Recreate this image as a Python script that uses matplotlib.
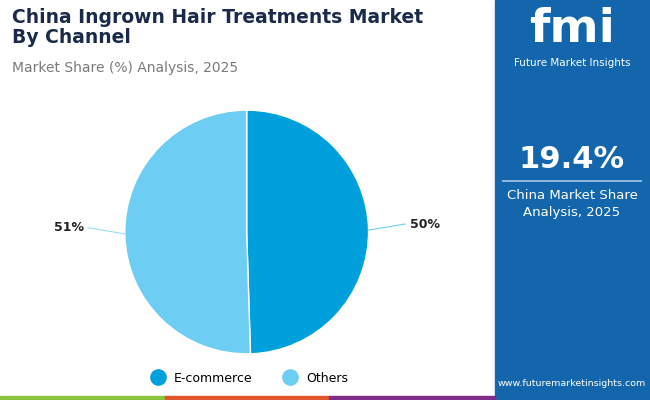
import matplotlib.pyplot as plt
from matplotlib.patches import Rectangle
import numpy as np

categories = ["E-commerce", "Others"]
shares = [50, 51]
labels = ["50%", "51%"]
colors = ["#00a0dc", "#6dcdf3"]

fig = plt.figure(figsize=(6.5, 4), dpi=100)
fig.patch.set_facecolor("white")

# right panel
fig.add_artist(Rectangle((495 / 650, 0), 155 / 650, 1, transform=fig.transFigure,
                         color="#1366ac", zorder=0))
# bottom stripe
for x0, x1, c in [(0, 165, "#8bc53f"), (165, 329, "#e2562b"), (329, 495, "#7f2d88")]:
    fig.add_artist(Rectangle((x0 / 650, 0), (x1 - x0) / 650, 4 / 400,
                             transform=fig.transFigure, color=c, zorder=1))

fig.text(12 / 650, 1 - 8 / 400, "China Ingrown Hair Treatments Market\nBy Channel",
         fontsize=13.5, fontweight="bold", color="#1b2a4a", va="top", linespacing=1.05)
fig.text(12 / 650, 1 - 68 / 400, "Market Share (%) Analysis, 2025",
         fontsize=10, color="#7a7a7a", va="center")

# right panel text
fig.text(572 / 650, 1 - 30 / 400, "fmi", fontsize=34, fontweight="bold",
         color="white", ha="center", va="center")
fig.text(572 / 650, 1 - 63 / 400, "Future Market Insights", fontsize=7.5,
         color="white", ha="center", va="center")
fig.text(572 / 650, 1 - 160 / 400, "19.4%", fontsize=22, fontweight="bold",
         color="white", ha="center", va="center")
fig.add_artist(plt.Line2D([503 / 650, 641 / 650], [1 - 181 / 400, 1 - 181 / 400],
                          transform=fig.transFigure, color="#a9c8e6", lw=1.2))
fig.text(572 / 650, 1 - 204 / 400, "China Market Share\nAnalysis, 2025",
         fontsize=9.5, color="white", ha="center", va="center", linespacing=1.4)
fig.text(572 / 650, 1 - 383 / 400, "www.futuremarketinsights.com", fontsize=6.8,
         color="white", ha="center", va="center")

ax = fig.add_axes([0.192, 0.115, 0.375, 0.61])
wedges, _ = ax.pie(shares, colors=colors, startangle=90, counterclock=False,
                   wedgeprops=dict(edgecolor="white", linewidth=1))
ax.set_aspect("equal")

# leader lines and labels
for w, lab in zip(wedges, labels):
    ang = np.deg2rad((w.theta1 + w.theta2) / 2)
    side = np.sign(np.cos(ang))
    y = np.sin(ang)
    ax.plot([np.cos(ang), side * 1.3], [y, y + (0.05 if side > 0 else 0.05)],
            color="#6dcdf3" if side > 0 else "#9adcf6", lw=0.8, clip_on=False)
    ax.text(side * 1.46, y + 0.05, lab, fontsize=9, fontweight="bold",
            ha="center", va="center", color="#222222")

ax.set_xlim(-1, 1)
ax.set_ylim(-1, 1)

handles = [plt.Line2D([], [], marker="o", ls="", markersize=11, color=c) for c in colors]
fig.legend(handles, categories, loc="center", bbox_to_anchor=(247 / 650, 1 - 378 / 400),
           ncol=2, frameon=False, fontsize=9, handletextpad=0.3, columnspacing=2)

fig.savefig("out.png", dpi=100)
